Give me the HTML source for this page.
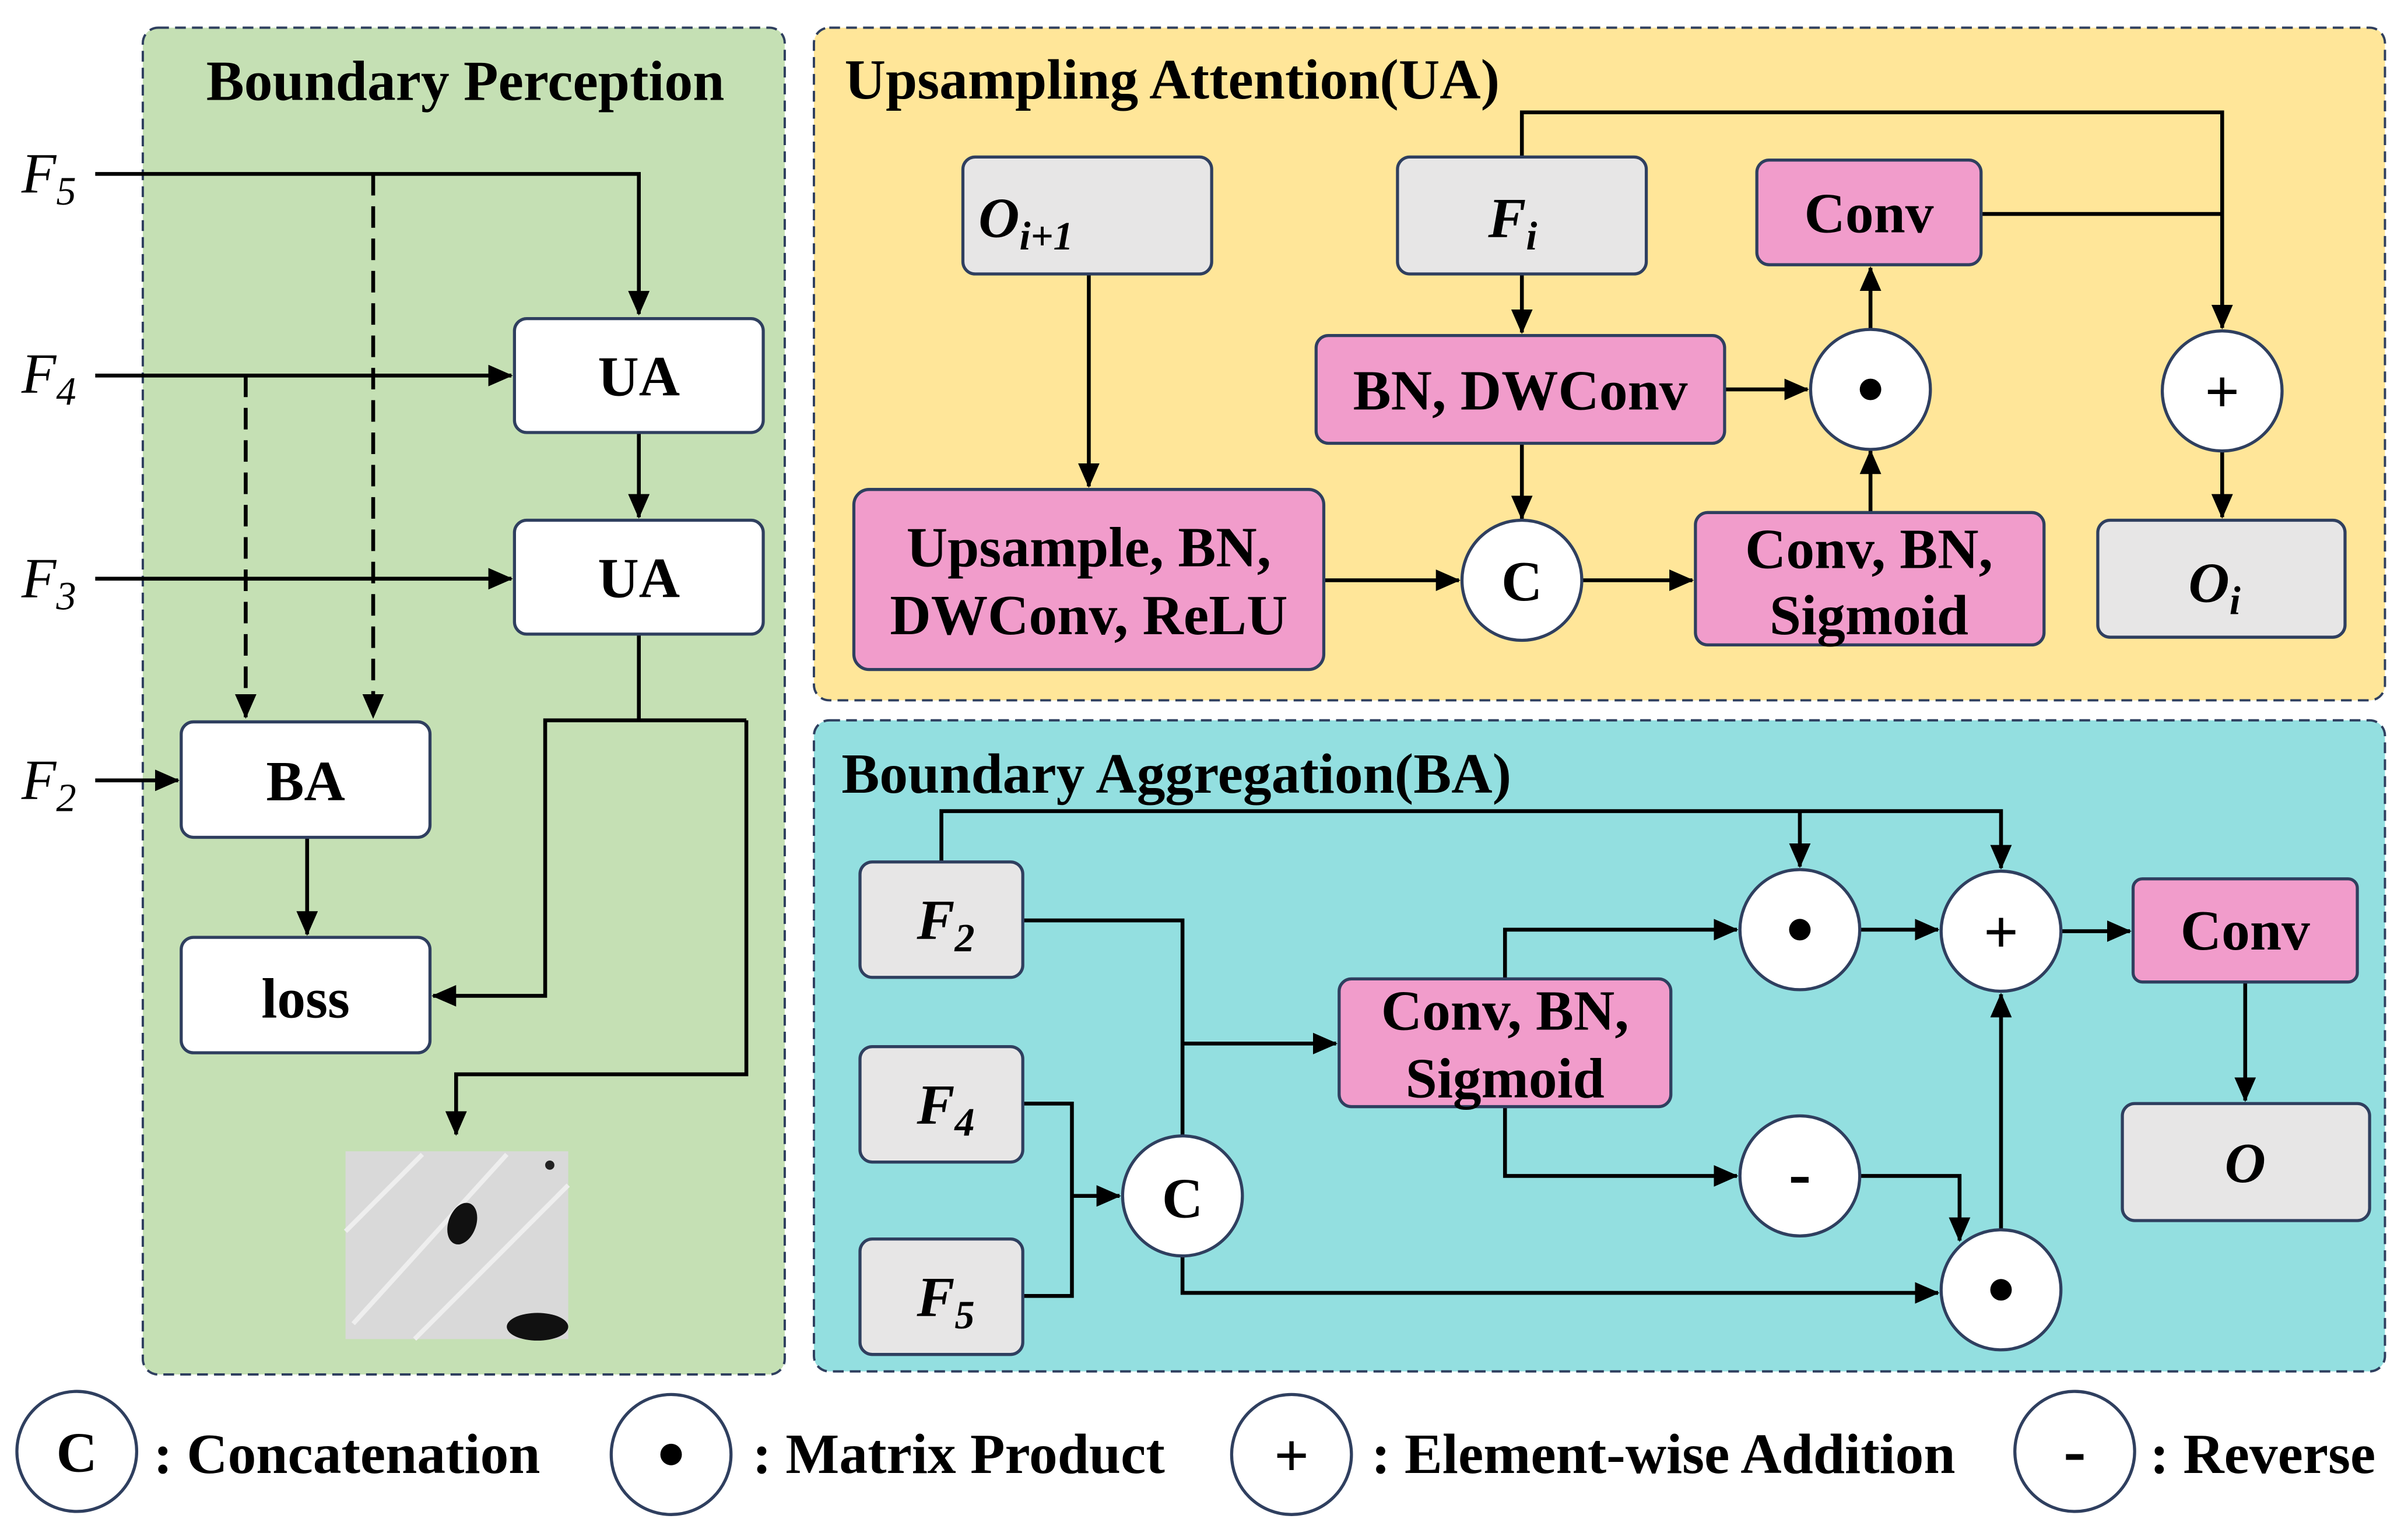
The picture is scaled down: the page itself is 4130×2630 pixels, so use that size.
<!DOCTYPE html>
<html><head><meta charset="utf-8"><style>
html,body{margin:0;padding:0;background:#fff;}
svg{display:block;}
text{font-family:"Liberation Serif",serif;font-weight:bold;fill:#000;}
</style></head><body>
<svg width="4130" height="2630" viewBox="0 0 1568 996" preserveAspectRatio="none" xmlns="http://www.w3.org/2000/svg">
<defs>
<marker id="b" markerWidth="16" markerHeight="14" refX="15" refY="7" orient="auto" markerUnits="userSpaceOnUse">
<path d="M0,0 L16,7 L0,14 z" fill="#000"/></marker>
</defs>
<rect x="93" y="18" width="418" height="875" rx="10" fill="#c5e0b4" stroke="#2f3f5f" stroke-width="1.5" stroke-dasharray="7,4"/>
<rect x="530" y="18" width="1023" height="437" rx="10" fill="#ffe699" stroke="#2f3f5f" stroke-width="1.5" stroke-dasharray="7,4"/>
<rect x="530" y="468" width="1023" height="423" rx="10" fill="#93dfe0" stroke="#2f3f5f" stroke-width="1.5" stroke-dasharray="7,4"/>

<g font-size="37">
<text x="303" y="65" text-anchor="middle">Boundary Perception</text>
<text x="550" y="64">Upsampling Attention(UA)</text>
<text x="548" y="515">Boundary Aggregation(BA)</text>
</g>

<g fill="none" stroke="#000" stroke-width="2.5">
<polyline points="62,113 416,113 416,204" marker-end="url(#b)"/>
<line x1="243" y1="113" x2="243" y2="466" stroke-dasharray="14,7" marker-end="url(#b)"/>
<line x1="62" y1="244" x2="333" y2="244" marker-end="url(#b)"/>
<line x1="160" y1="244" x2="160" y2="466" stroke-dasharray="14,7" marker-end="url(#b)"/>
<line x1="62" y1="376" x2="333" y2="376" marker-end="url(#b)"/>
<line x1="416" y1="281" x2="416" y2="336" marker-end="url(#b)"/>
<polyline points="416,412 416,468"/>
<polyline points="486,468 355,468 355,647 282,647" marker-end="url(#b)"/>
<polyline points="486,468 486,698 297,698 297,737" marker-end="url(#b)"/>
<line x1="62" y1="507" x2="116" y2="507" marker-end="url(#b)"/>
<line x1="200" y1="544" x2="200" y2="607" marker-end="url(#b)"/>
<polyline points="991,102 991,73 1447,73 1447,213" marker-end="url(#b)"/>
<line x1="1290" y1="139" x2="1447" y2="139"/>
<line x1="991" y1="178" x2="991" y2="216" marker-end="url(#b)"/>
<line x1="991" y1="288" x2="991" y2="337" marker-end="url(#b)"/>
<line x1="1123" y1="253" x2="1177" y2="253" marker-end="url(#b)"/>
<line x1="1218" y1="214" x2="1218" y2="174" marker-end="url(#b)"/>
<line x1="1218" y1="333" x2="1218" y2="293" marker-end="url(#b)"/>
<line x1="709" y1="178" x2="709" y2="316" marker-end="url(#b)"/>
<line x1="862" y1="377" x2="950" y2="377" marker-end="url(#b)"/>
<line x1="1030" y1="377" x2="1102" y2="377" marker-end="url(#b)"/>
<line x1="1447" y1="293" x2="1447" y2="336" marker-end="url(#b)"/>
<polyline points="613,560 613,527 1303,527 1303,564" marker-end="url(#b)"/>
<line x1="1172" y1="527" x2="1172" y2="563" marker-end="url(#b)"/>
<polyline points="666,598 770,598 770,738"/>
<line x1="770" y1="678" x2="870" y2="678" marker-end="url(#b)"/>
<polyline points="666,717 698,717 698,842 666,842"/>
<line x1="698" y1="777" x2="729" y2="777" marker-end="url(#b)"/>
<polyline points="770,816 770,840 1262,840" marker-end="url(#b)"/>
<polyline points="980,636 980,604 1131,604" marker-end="url(#b)"/>
<polyline points="980,719 980,764 1131,764" marker-end="url(#b)"/>
<polyline points="1211,764 1276,764 1276,806" marker-end="url(#b)"/>
<line x1="1303" y1="799" x2="1303" y2="646" marker-end="url(#b)"/>
<line x1="1211" y1="604" x2="1262" y2="604" marker-end="url(#b)"/>
<line x1="1342" y1="605" x2="1387" y2="605" marker-end="url(#b)"/>
<line x1="1462" y1="638" x2="1462" y2="715" marker-end="url(#b)"/>
</g>

<g stroke="#2f3f5f" stroke-width="2">
<rect x="335" y="207" width="162" height="74" rx="8" fill="#fff"/>
<rect x="335" y="338" width="162" height="74" rx="8" fill="#fff"/>
<rect x="118" y="469" width="162" height="75" rx="8" fill="#fff"/>
<rect x="118" y="609" width="162" height="75" rx="8" fill="#fff"/>
<rect x="627" y="102" width="162" height="76" rx="8" fill="#e7e6e6"/>
<rect x="910" y="102" width="162" height="76" rx="8" fill="#e7e6e6"/>
<rect x="1144" y="104" width="146" height="68" rx="8" fill="#f19ccb"/>
<rect x="857" y="218" width="266" height="70" rx="8" fill="#f19ccb"/>
<rect x="556" y="318" width="306" height="117" rx="10" fill="#f19ccb"/>
<rect x="1104" y="333" width="227" height="86" rx="8" fill="#f19ccb"/>
<rect x="1366" y="338" width="161" height="76" rx="8" fill="#e7e6e6"/>
<rect x="560" y="560" width="106" height="75" rx="8" fill="#e7e6e6"/>
<rect x="560" y="680" width="106" height="75" rx="8" fill="#e7e6e6"/>
<rect x="560" y="805" width="106" height="75" rx="8" fill="#e7e6e6"/>
<rect x="872" y="636" width="216" height="83" rx="8" fill="#f19ccb"/>
<rect x="1389" y="571" width="146" height="67" rx="6" fill="#f19ccb"/>
<rect x="1382" y="717" width="161" height="76" rx="8" fill="#e7e6e6"/>
</g>
<g fill="#fff" stroke="#2f3f5f" stroke-width="2">
<circle cx="1218" cy="253" r="39"/><circle cx="1447" cy="254" r="39"/>
<circle cx="991" cy="377" r="39"/><circle cx="770" cy="777" r="39"/>
<circle cx="1172" cy="604" r="39"/><circle cx="1303" cy="605" r="39"/>
<circle cx="1172" cy="764" r="39"/><circle cx="1303" cy="838" r="39"/>
<circle cx="50" cy="943" r="39"/><circle cx="437" cy="945" r="39"/>
<circle cx="841" cy="945" r="39"/><circle cx="1351" cy="943" r="39"/>
</g>
<g fill="#000">
<circle cx="1218" cy="253" r="7"/><circle cx="1172" cy="604" r="7"/><circle cx="1303" cy="838" r="7"/><circle cx="437" cy="945" r="7"/>
</g>
<rect x="225" y="748" width="145" height="122" fill="#d9d9d9"/>
<g stroke="#eee" stroke-width="3"><line x1="230" y1="860" x2="330" y2="750"/><line x1="270" y1="870" x2="370" y2="770"/><line x1="225" y1="800" x2="275" y2="750"/></g>
<ellipse cx="301" cy="795" rx="9" ry="14" fill="#111" transform="rotate(20 301 795)"/>
<ellipse cx="350" cy="862" rx="20" ry="9" fill="#111"/>
<circle cx="358" cy="757" r="3" fill="#222"/>

<g font-size="37" text-anchor="middle">
<text x="416" y="257">UA</text><text x="416" y="388">UA</text>
<text x="199" y="520">BA</text><text x="199" y="661">loss</text>
<text x="1217" y="151">Conv</text>
<text x="990" y="266">BN, DWConv</text>
<text x="709" y="368">Upsample, BN,</text><text x="709" y="412">DWConv, ReLU</text>
<text x="1217" y="369">Conv, BN,</text><text x="1217" y="412">Sigmoid</text>
<text x="980" y="669">Conv, BN,</text><text x="980" y="713">Sigmoid</text>
<text x="1462" y="617">Conv</text>
<text x="991" y="390">C</text><text x="770" y="791">C</text>
<text x="1303" y="619" font-size="40" font-weight="normal" font-family="DejaVu Sans">+</text>
<text x="1447" y="268" font-size="40" font-weight="normal" font-family="DejaVu Sans">+</text>
<text x="1172" y="777" font-size="44">-</text>
<text x="50" y="956">C</text>
<text x="841" y="959" font-size="40" font-weight="normal" font-family="DejaVu Sans">+</text>
<text x="1351" y="957" font-size="44">-</text>
</g>
<g font-size="37" font-style="italic">
<text x="668" y="154" text-anchor="middle">O<tspan font-size="26" dy="8">i+1</tspan></text>
<text x="985" y="154" text-anchor="middle">F<tspan font-size="26" dy="8">i</tspan></text>
<text x="1442" y="391" text-anchor="middle">O<tspan font-size="26" dy="8">i</tspan></text>
<text x="1462" y="768" text-anchor="middle">O</text>
<text x="597" y="610">F<tspan font-size="26" dy="8">2</tspan></text>
<text x="597" y="730">F<tspan font-size="26" dy="8">4</tspan></text>
<text x="597" y="855">F<tspan font-size="26" dy="8">5</tspan></text>
</g>
<g font-size="37" font-style="italic">
<text x="14" y="125" style="font-weight:normal">F<tspan font-size="26" dy="8">5</tspan></text>
<text x="14" y="255" style="font-weight:normal">F<tspan font-size="26" dy="8">4</tspan></text>
<text x="14" y="388" style="font-weight:normal">F<tspan font-size="26" dy="8">3</tspan></text>
<text x="14" y="519" style="font-weight:normal">F<tspan font-size="26" dy="8">2</tspan></text>
</g>
<g font-size="37">
<text x="100" y="957">: Concatenation</text>
<text x="490" y="957">: Matrix Product</text>
<text x="893" y="957">: Element-wise Addition</text>
<text x="1400" y="957">: Reverse</text>
</g>
</svg>
</body></html>
